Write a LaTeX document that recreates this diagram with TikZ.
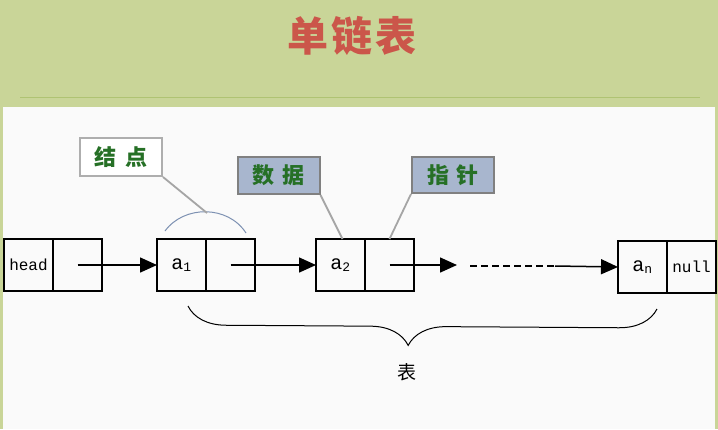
\documentclass[tikz,border=0pt]{standalone}
\usepackage{fontspec}
\usepackage{xcolor}
\setmonofont{Liberation Mono}
\newfontfamily\cjk{Noto Sans CJK SC}
\usetikzlibrary{arrows.meta,positioning,decorations.pathreplacing}

\definecolor{bggreen}{RGB}{201,213,152}
\definecolor{rulegreen}{RGB}{175,195,115}
\definecolor{titlered}{RGB}{203,86,74}
\definecolor{tagblue}{RGB}{168,182,206}
\definecolor{taggreen}{RGB}{38,112,38}
\definecolor{linegray}{RGB}{165,165,165}
\definecolor{arcblue}{RGB}{125,145,178}

\newcommand{\elem}[1]{{\fontsize{20}{20}\selectfont a}\textsubscript{\fontsize{13}{13}\selectfont #1}}

\begin{document}
\begin{tikzpicture}[x=1pt,y=-1pt,
    cellnode/.style={rectangle, draw=black, line width=1.3pt, outer sep=0pt, inner sep=0pt,
                     minimum width=49pt, minimum height=52pt, font=\ttfamily\fontsize{16}{16}\selectfont},
    tagnode/.style={rectangle, line width=2pt, inner sep=0pt, minimum width=82pt, minimum height=38pt,
                    text=taggreen, font=\cjk\bfseries\fontsize{22}{22}\selectfont},
    callout/.style={draw=linegray, line width=1.8pt}]
  \tikzstyle{link}=[-{Triangle[length=17pt,width=15pt]}, line width=1.5pt]

  % background and title
  \fill[bggreen] (0,0) rectangle (718,429);
  \draw[rulegreen, line width=0.8pt] (20,97) -- (700,97);
  \fill[white!98!black] (3,107) rectangle (715,429);
  \node[text=titlered, font=\cjk\bfseries\fontsize{41}{44}\selectfont] (title) at (352,36) {单\hspace{3pt}链\hspace{3pt}表};

  % list nodes
  \node[cellnode]                   (headd) at (28.5,265)  {\raisebox{-4pt}{head}};
  \node[cellnode, right=0pt of headd] (headp)              {};
  \node[cellnode]                   (a1d)   at (181.5,265) {\raisebox{-3pt}{\elem{1}}};
  \node[cellnode, right=0pt of a1d] (a1p)                  {};
  \node[cellnode]                   (a2d)   at (340.5,265) {\raisebox{-2pt}{\elem{2}}};
  \node[cellnode, right=0pt of a2d] (a2p)                  {};
  \node[cellnode]                   (and)   at (642.5,267) {\raisebox{-4pt}{\elem{n}}};
  \node[cellnode, right=0pt of and] (anp)                  {\raisebox{-4pt}{null}};

  \coordinate (gapend) at (457,265);
  \coordinate (dashL)  at (470,266);
  \coordinate (dashR)  at (555,266);

  \draw[link] (headp.center) -- (a1d.west);
  \draw[link] (a1p.center) -- (a2d.west);
  \draw[link] (a2p.center) -- (gapend);
  \draw[line width=1.5pt, dash pattern=on 7pt off 4pt] (dashL) -- (dashR);
  \draw[link] (dashR) -- (and.west);

  % labels
  \node[tagnode, draw=linegray!90, fill=white] (tagnode1) at (121,157)   {结\hspace{10pt}点};
  \node[tagnode, draw=gray, fill=tagblue, minimum height=37pt] (tagdata) at (278.5,175.5) {数\hspace{8pt}据};
  \node[tagnode, draw=gray, fill=tagblue, minimum height=36pt] (tagptr)  at (453,175)     {指\hspace{8pt}针};

  \coordinate (arcL)   at (165,231);
  \coordinate (arcR)   at (246,233);
  \coordinate (arcTop) at (207,213);
  \draw[arcblue, line width=1pt] (arcL) .. controls (184,205) and (228,205) .. (arcR);
  \draw[callout] (tagnode1.south east) -- (arcTop);
  \draw[callout] (tagdata.south east) -- ([xshift=2pt]a2d.north);
  \draw[callout] (tagptr.south west) -- (a2p.north);

  % the whole list
  \coordinate (braceL) at (188,306);
  \coordinate (braceR) at (657,309);
  \draw[decorate, decoration={brace, mirror, amplitude=38pt, aspect=0.47}, line width=1pt] (braceL) -- (braceR);
  \node[font=\cjk\fontsize{19}{19}\selectfont] (biao) at (407,372) {表};
\end{tikzpicture}
\end{document}
